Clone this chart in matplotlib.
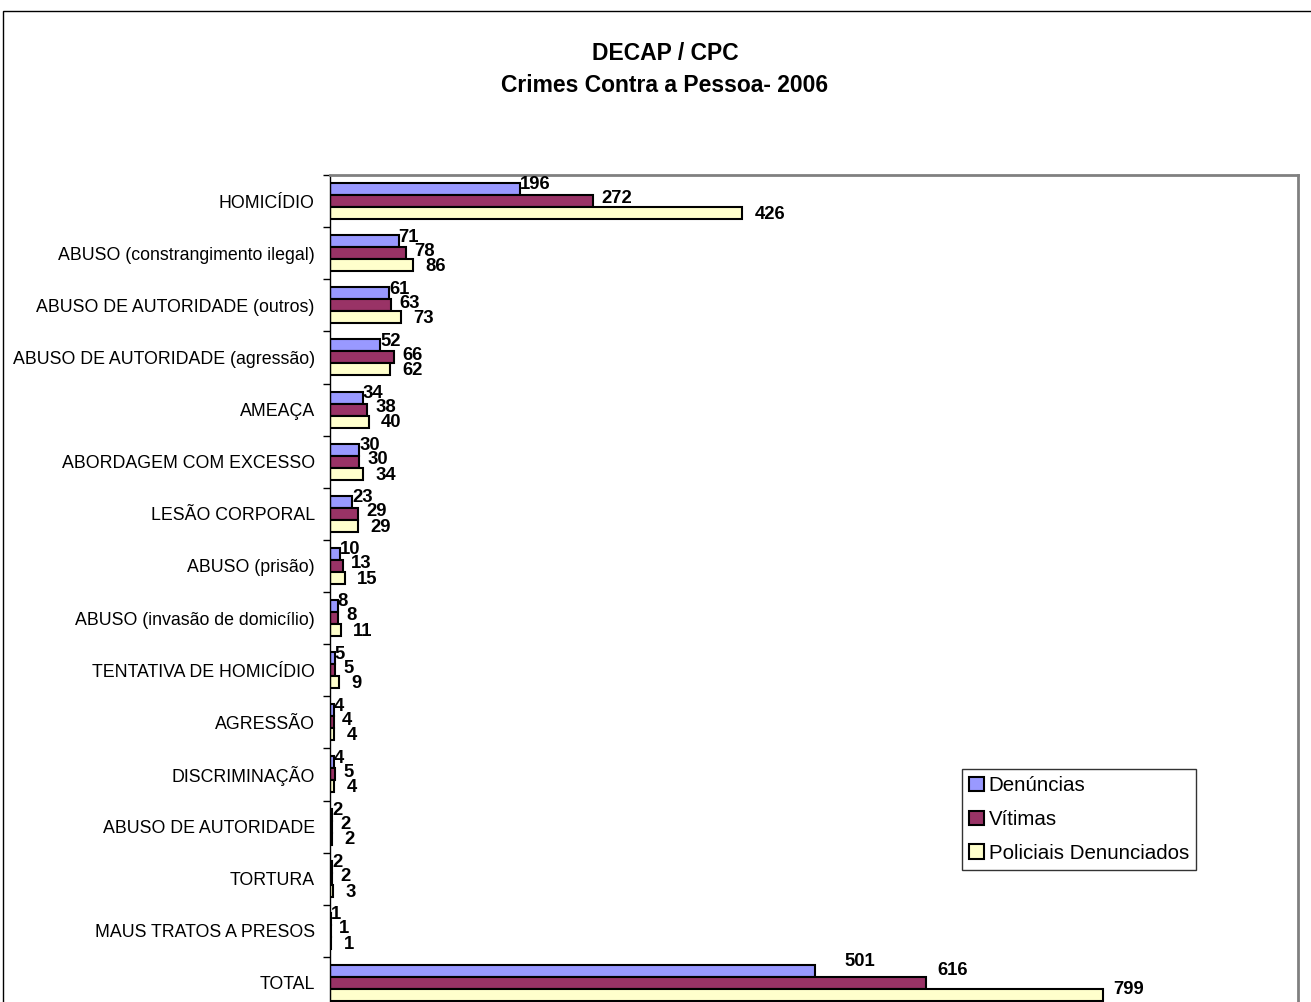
import matplotlib
matplotlib.use("Agg")
import matplotlib.pyplot as plt
from matplotlib.patches import Rectangle
import numpy as np

plt.rcParams['font.family'] = ['Liberation Sans', 'DejaVu Sans']

categories = [
    "HOMICÍDIO",
    "ABUSO (constrangimento ilegal)",
    "ABUSO DE AUTORIDADE (outros)",
    "ABUSO DE AUTORIDADE (agressão)",
    "AMEAÇA",
    "ABORDAGEM COM EXCESSO",
    "LESÃO CORPORAL",
    "ABUSO (prisão)",
    "ABUSO (invasão de domicílio)",
    "TENTATIVA DE HOMICÍDIO",
    "AGRESSÃO",
    "DISCRIMINAÇÃO",
    "ABUSO DE AUTORIDADE",
    "TORTURA",
    "MAUS TRATOS A PRESOS",
    "TOTAL",
]
denuncias = [196, 71, 61, 52, 34, 30, 23, 10, 8, 5, 4, 4, 2, 2, 1, 501]
vitimas = [272, 78, 63, 66, 38, 30, 29, 13, 8, 5, 4, 5, 2, 2, 1, 616]
policiais = [426, 86, 73, 62, 40, 34, 29, 15, 11, 9, 4, 4, 2, 3, 1, 799]
series_names = ["Denúncias", "Vítimas", "Policiais Denunciados"]

W, H = 1311, 1002
fig = plt.figure(figsize=(W / 100, H / 100), dpi=100)

# outer chart frame
fig.patches.append(Rectangle((3 / W, -0.1), 1.2, (H - 11) / H + 0.1,
                             transform=fig.transFigure, fill=False,
                             edgecolor='black', linewidth=1.0))

ax_left, ax_right = 330 / W, 1298 / W
ax_top = (H - 175) / H
ax_bottom = (H - 1009) / H
ax = fig.add_axes([ax_left, ax_bottom, ax_right - ax_left, ax_top - ax_bottom])

y = np.arange(len(categories))
h = 0.23
colors = ['#9999FF', '#993366', '#FFFFCC']
offsets = [-h, 0, h]
data = [denuncias, vitimas, policiais]
for vals, col, off, name in zip(data, colors, offsets, series_names):
    ax.barh(y + off, vals, height=h, color=col, edgecolor='black',
            linewidth=1.5, label=name)

# data labels (offsets in points); the TOTAL row's labels sit higher/further out
label_shift = [(0, 3), (6, 1.5), (9, -1)]
total_shift = [(21, 7), (8, 9), (7, 4)]
last = len(categories) - 1
for s, (vals, off) in enumerate(zip(data, offsets)):
    for yi, v in zip(y, vals):
        dx, dy = total_shift[s] if yi == last else label_shift[s]
        ax.annotate(str(v), xy=(v, yi + off), xytext=(dx, dy),
                    textcoords='offset points', ha='left', va='center',
                    fontsize=13.3, fontweight='bold')

ax.set_xlim(0, 1000)
ax.set_ylim(len(categories) - 0.5, -0.5)
ax.set_yticks(y)
ax.set_yticklabels(categories, fontsize=12.8)
ax.set_yticks(np.arange(-0.5, len(categories) + 0.5, 1), minor=True)
ax.tick_params(axis='y', which='major', length=0, pad=11)
ax.tick_params(axis='y', which='minor', length=5, width=1, direction='out')
ax.set_xticks([])
for s in ['top', 'right']:
    ax.spines[s].set_color('#808080')
    ax.spines[s].set_linewidth(2)
ax.spines['left'].set_color('black')
ax.spines['left'].set_linewidth(1)
ax.spines['bottom'].set_visible(False)

leg = ax.legend(loc='upper left', bbox_to_anchor=((962 - 330) / 968, (1009 - 769) / 834),
                fontsize=14.8, frameon=True, fancybox=False, edgecolor='black',
                handlelength=0.7, handleheight=0.7, handletextpad=0.25,
                labelspacing=0.72, borderpad=0.35, borderaxespad=0)
leg.get_frame().set_linewidth(1)

fig.text(665 / W, (H - 53) / H, "DECAP / CPC", ha='center', va='center',
         fontsize=16.5, fontweight='bold')
fig.text(665 / W, (H - 86) / H, "Crimes Contra a Pessoa- 2006", ha='center',
         va='center', fontsize=16.5, fontweight='bold')

fig.savefig("out.png", dpi=100)
